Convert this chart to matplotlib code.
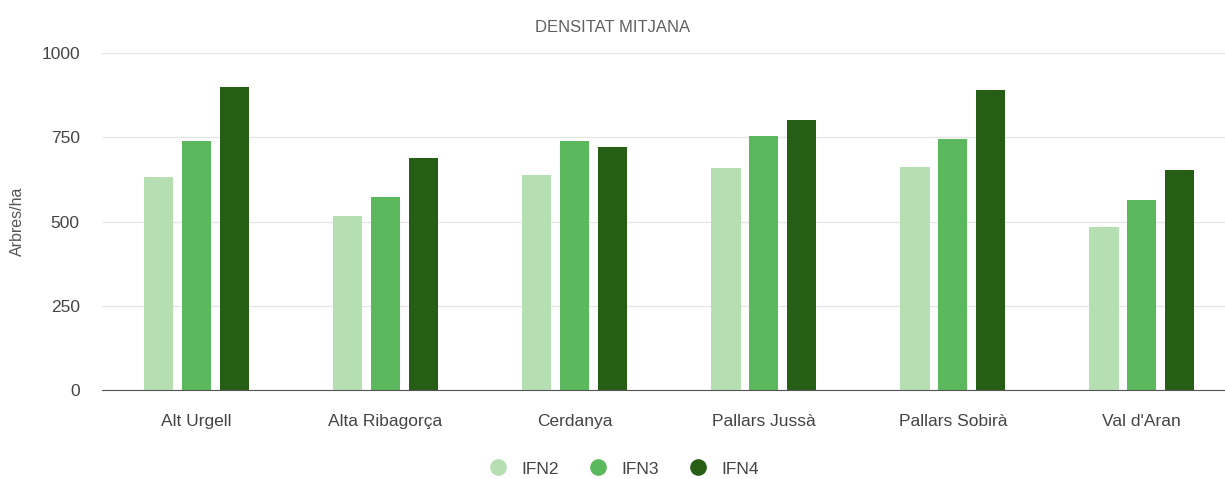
import matplotlib.pyplot as plt
import numpy as np

plt.rcParams["font.family"] = ["Liberation Sans", "DejaVu Sans"]

comarques = ["Alt Urgell", "Alta Ribagorça", "Cerdanya", "Pallars Jussà", "Pallars Sobirà", "Val d'Aran"]
ifn2 = [632, 516, 638, 660, 661, 485]
ifn3 = [740, 573, 740, 754, 745, 564]
ifn4 = [899, 688, 722, 801, 890, 653]
series = ["IFN2", "IFN3", "IFN4"]
colors = ["#b5deb2", "#5cb85c", "#275e16"]

fig = plt.figure(figsize=(12.25, 4.79), dpi=100)
ax = fig.add_axes([102 / 1225, 1 - 390 / 479, 1 - 102 / 1225, (390 - 53) / 479])

x = np.arange(len(comarques))
w = 0.155
for i, (vals, name) in enumerate(zip([ifn2, ifn3, ifn4], series)):
    ax.bar(x + (i - 1) * 0.2, vals, width=w, color=colors[i], label=name, zorder=3)

ax.set_xlim(-0.5, 5.44)
ax.set_ylim(0, 1000)
ax.set_yticks([0, 250, 500, 750, 1000])
ax.set_xticks(x)
ax.set_xticklabels(comarques)
ax.tick_params(length=0, labelsize=12.5, labelcolor="#444444")
ax.tick_params(axis="x", pad=17)
ax.tick_params(axis="y", pad=16)
ax.grid(axis="y", color="#e6e6e6", linewidth=1, zorder=0)
for s in ["top", "right", "left"]:
    ax.spines[s].set_visible(False)
ax.spines["bottom"].set_color("#555555")
ax.spines["bottom"].set_zorder(4)

ax.set_ylabel("Arbres/ha", color="#555555", fontsize=11.5, labelpad=12)
fig.text(0.5, 1 - 27 / 479, "DENSITAT MITJANA", ha="center", va="center",
         fontsize=12, color="#606060")

handles = [plt.Line2D([], [], marker="o", linestyle="", markersize=11, color=c) for c in colors]
fig.legend(handles, series, loc="center", bbox_to_anchor=(0.506, 1 - 469 / 479), ncol=3,
           frameon=False, fontsize=12.5, labelcolor="#444444", handletextpad=0.3,
           columnspacing=1.3)

fig.savefig("out.png", dpi=100)
